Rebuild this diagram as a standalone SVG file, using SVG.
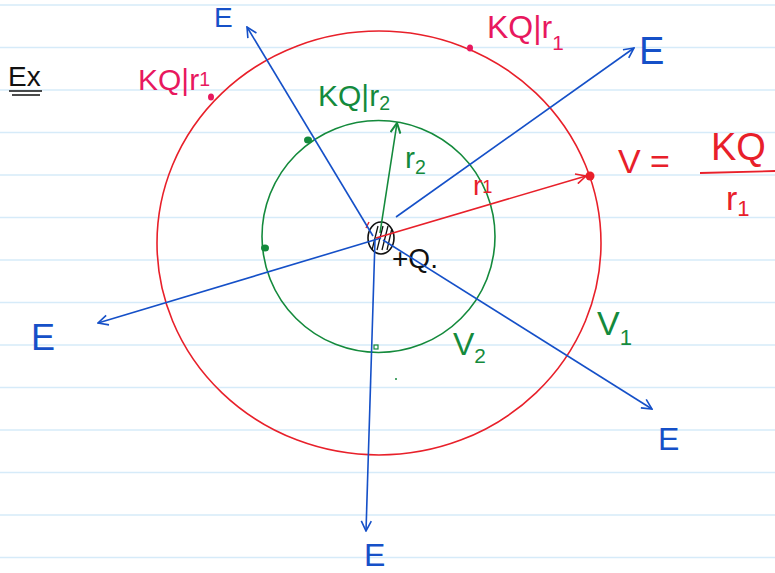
<svg xmlns="http://www.w3.org/2000/svg" width="775" height="573" viewBox="0 0 775 573">
<defs>
<style>
.rule{stroke:#d6ebf9;stroke-width:1.5}
.blue{stroke:#1550c8;stroke-width:1.6;fill:none}
.red{stroke:#e8202a;stroke-width:1.6;fill:none}
.green{stroke:#148a3c;stroke-width:1.6;fill:none}
.t{font-family:"Liberation Sans",Arial,sans-serif}
.tb{fill:#1550c8}
.tp{fill:#e8185e}
.tr{fill:#e8202a}
.tg{fill:#148a3c}
.tk{fill:#111}
.sub{font-size:0.65em}
</style>
<marker id="ab" viewBox="0 0 12 12" refX="11" refY="6" markerWidth="12" markerHeight="12" markerUnits="userSpaceOnUse" orient="auto">
<path d="M1,1 L11,6 L1,11" fill="none" stroke="#1550c8" stroke-width="1.6"/>
</marker>
<marker id="ar" viewBox="0 0 12 12" refX="11" refY="6" markerWidth="12" markerHeight="12" markerUnits="userSpaceOnUse" orient="auto">
<path d="M1,1 L11,6 L1,11" fill="none" stroke="#e8202a" stroke-width="1.6"/>
</marker>
<marker id="ag" viewBox="0 0 12 12" refX="11" refY="6" markerWidth="12" markerHeight="12" markerUnits="userSpaceOnUse" orient="auto">
<path d="M1,1 L11,6 L1,11" fill="none" stroke="#148a3c" stroke-width="2"/>
</marker>
<clipPath id="cc"><ellipse cx="381" cy="238" rx="13" ry="16"/></clipPath>
</defs>
<rect width="775" height="573" fill="#fff"/>
<g id="ruling">
<line class="rule" x1="0" y1="5" x2="775" y2="5"/>
<line class="rule" x1="0" y1="47.5" x2="775" y2="47.5"/>
<line class="rule" x1="0" y1="90" x2="775" y2="90"/>
<line class="rule" x1="0" y1="132.5" x2="775" y2="132.5"/>
<line class="rule" x1="0" y1="175" x2="775" y2="175"/>
<line class="rule" x1="0" y1="217.5" x2="775" y2="217.5"/>
<line class="rule" x1="0" y1="260" x2="775" y2="260"/>
<line class="rule" x1="0" y1="302.5" x2="775" y2="302.5"/>
<line class="rule" x1="0" y1="345" x2="775" y2="345"/>
<line class="rule" x1="0" y1="387.5" x2="775" y2="387.5"/>
<line class="rule" x1="0" y1="430" x2="775" y2="430"/>
<line class="rule" x1="0" y1="472.5" x2="775" y2="472.5"/>
<line class="rule" x1="0" y1="515" x2="775" y2="515"/>
<line class="rule" x1="0" y1="557.5" x2="775" y2="557.5"/>
</g>
<g id="ex-heading">
<text class="t tk" x="8" y="86" font-size="28">Ex</text>
<path d="M9,91 L42,91 M12,95 L40,95" stroke="#111" stroke-width="1.6" fill="none"/>
</g>
<g id="shell-r1">
<ellipse class="red" cx="379" cy="243" rx="222" ry="212"/>
<ellipse cx="470" cy="48" rx="3" ry="3.5" fill="#e8185e"/>
<ellipse cx="211" cy="97" rx="3" ry="3.5" fill="#e8185e"/>
<circle cx="590" cy="176" r="4.5" fill="#e8202a"/>
<text class="t tp" x="487" y="38" font-size="32">KQ|r<tspan class="sub" dy="12">1</tspan></text>
<text class="t tp" x="138" y="90" font-size="30">KQ|r<tspan class="sub" dy="-4">1</tspan></text>
<text class="t tg" x="597" y="335" font-size="34">V<tspan class="sub" dy="10">1</tspan></text>
</g>
<g id="shell-r2">
<ellipse class="green" cx="378.5" cy="236.5" rx="116.5" ry="116"/>
<ellipse cx="308" cy="140" rx="4" ry="3.5" fill="#148a3c"/>
<ellipse cx="265" cy="248" rx="4" ry="3.5" fill="#148a3c"/>
<rect x="374" y="345" width="4" height="4" fill="none" stroke="#148a3c" stroke-width="1.2"/>
<circle cx="396" cy="379" r="1" fill="#148a3c"/>
<text class="t tg" x="318" y="106" font-size="30">KQ|r<tspan class="sub" dy="4">2</tspan></text>
<text class="t tg" x="453" y="355" font-size="32">V<tspan class="sub" dy="8">2</tspan></text>
</g>
<g id="charge">
<ellipse cx="381" cy="238" rx="13" ry="16" fill="#fff" stroke="#111" stroke-width="1.6"/>
<g clip-path="url(#cc)" stroke="#111" stroke-width="1.3">
<path d="M372,250 L378,226 M377,250 L383,226 M382,250 L388,226 M387,250 L392,228"/>
</g>
<path d="M366,228 L369,222" stroke="#e8202a" stroke-width="1.4"/>
<text class="t tk" x="392" y="268" font-size="28">+Q.</text>
</g>
<g id="connectors">
<line class="blue" x1="373" y1="236" x2="247" y2="27" marker-end="url(#ab)"/>
<line class="blue" x1="396" y1="217" x2="634" y2="48" marker-end="url(#ab)"/>
<line class="blue" x1="381" y1="238" x2="98" y2="323" marker-end="url(#ab)"/>
<line class="blue" x1="375" y1="240" x2="366" y2="531" marker-end="url(#ab)"/>
<line class="blue" x1="383" y1="240" x2="652" y2="409" marker-end="url(#ab)"/>
<line class="red" x1="376" y1="238" x2="586" y2="176" marker-end="url(#ar)"/>
<line class="green" x1="380" y1="233" x2="397" y2="123" stroke-width="2.2" marker-end="url(#ag)"/>
</g>
<g id="labels">
<text class="t tb" x="214" y="27" font-size="28">E</text>
<text class="t tb" x="639" y="64" font-size="38">E</text>
<text class="t tb" x="31" y="350" font-size="36">E</text>
<text class="t tb" x="364" y="566" font-size="32">E</text>
<text class="t tb" x="658" y="450" font-size="32">E</text>
<text class="t tr" x="473" y="195" font-size="28">r<tspan class="sub" dy="-2">1</tspan></text>
<text class="t tg" x="405" y="168" font-size="30">r<tspan class="sub" dy="6">2</tspan></text>
<text class="t tr" x="618" y="173" font-size="34">V =</text>
<text class="t tr" x="711" y="160" font-size="38">KQ</text>
<path d="M700,173 L775,171" stroke="#e8202a" stroke-width="1.8"/>
<text class="t tr" x="726" y="210" font-size="34">r<tspan class="sub" dy="6">1</tspan></text>
</g>
</svg>
